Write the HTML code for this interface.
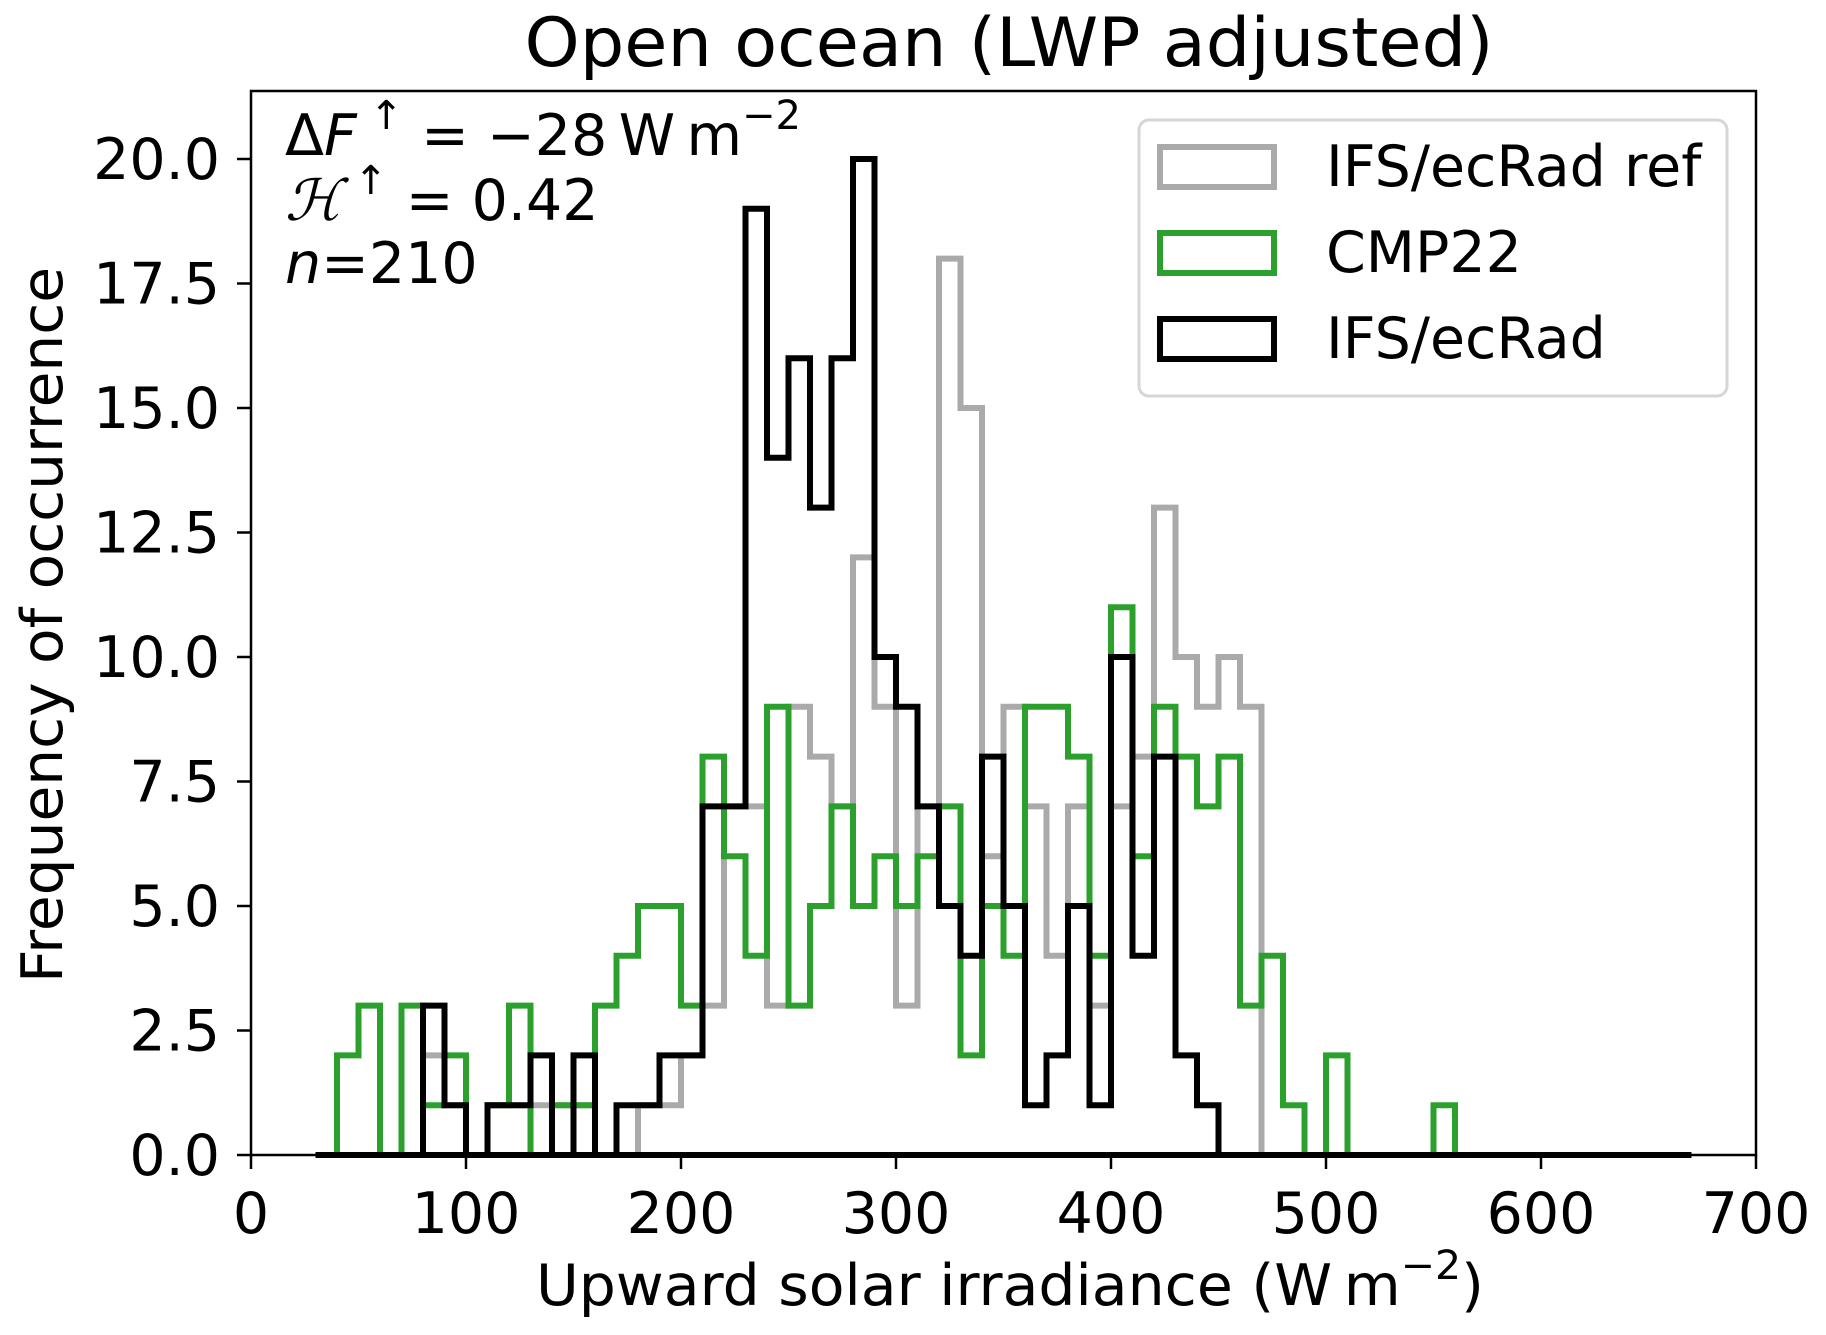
<!DOCTYPE html>
<html><head><meta charset="utf-8"><style>
html,body{margin:0;padding:0;background:#fff;}
svg{display:block;font-family:"DejaVu Sans","Liberation Sans",sans-serif;}
</style></head><body>
<svg id="chart" width="1826" height="1335" viewBox="0 0 1826 1335" xmlns="http://www.w3.org/2000/svg">
<rect x="0" y="0" width="1826" height="1335" fill="#fff"/>
<text x="1009" y="66" font-size="68" text-anchor="middle" textLength="969" lengthAdjust="spacingAndGlyphs">Open ocean (LWP adjusted)</text>
<g id="marks"></g>
<g id="axes"></g>
<g font-size="57">
<text x="285" y="155">Δ<tspan font-style="italic">F</tspan><tspan dy="-26" font-size="40"> ↑</tspan><tspan dy="26"> = −28&#8201;W&#8201;m</tspan><tspan dy="-26" font-size="40">−2</tspan></text>
<text x="285" y="220"><tspan font-family="DejaVu Serif, serif" font-style="italic">ℋ</tspan><tspan dy="-26" font-size="40"> ↑</tspan><tspan dy="26"> = 0.42</tspan></text>
<text x="285" y="283"><tspan font-style="italic">n</tspan>=210</text>
</g>
<g>
<rect x="1139" y="120" width="588" height="276" rx="10" fill="#fff" fill-opacity="0.8" stroke="#d6d6d6" stroke-width="3"/>
<rect x="1160" y="147" width="114" height="40" fill="none" stroke="#aaaaaa" stroke-width="6"/>
<text x="1326" y="186" font-size="57">IFS/ecRad ref</text>
<rect x="1160" y="233" width="114" height="40" fill="none" stroke="#2ca02c" stroke-width="6"/>
<text x="1326" y="272" font-size="57">CMP22</text>
<rect x="1160" y="319" width="114" height="40" fill="none" stroke="#000" stroke-width="6"/>
<text x="1326" y="358" font-size="57">IFS/ecRad</text>
</g>
<text x="1010" y="1305" font-size="57" text-anchor="middle" textLength="948" lengthAdjust="spacingAndGlyphs">Upward solar irradiance (W&#8201;m<tspan dy="-26" font-size="40">−2</tspan><tspan dy="26">)</tspan></text>
<text transform="translate(62,625) rotate(-90)" font-size="57" text-anchor="middle" textLength="716" lengthAdjust="spacingAndGlyphs">Frequency of occurrence</text>
</svg>
<script>
const binStart = 30;
const binWidth = 10;
const refCounts = [0,0,0,0,0, 2,1,0,1,1,1,1,1,0,0,1,1,2,3,7,7,3,9,8,7,12,9,3,7,18,15,6,9,7,4,7,3,7,8,13,10,9,10,9, 0,0,0,0,0,0,0,0,0,0,0,0,0,0,0,0,0,0,0,0];
const cmpCounts = [0,2,3,0,3,1,2,0,1,3,0,1,1,3,4,5,5,3,8,6,4,9,3,5,7,5,6,5,6,7,2,5,4,9,9,8,4,11,6,9,8,7,8,3,4,1,0,2,0,0,0,0,1, 0,0,0,0,0,0,0,0,0,0,0];
const ifsCounts = [0,0,0,0,0, 3,1,0,1,1,2,0,2,0,1,1,2,2,7,7,19,14,16,13,16,20,10,9,7,5,4,8,5,1,2,5,1,10,4,8,2,1, 0,0,0,0,0,0,0,0,0,0,0,0,0,0,0,0,0,0,0,0,0,0];
const xTicks = [0,100,200,300,400,500,600,700];
const yTicks = [0,2.5,5,7.5,10,12.5,15,17.5,20];
const yTickLabels = ["0.0","2.5","5.0","7.5","10.0","12.5","15.0","17.5","20.0"];

const NS = "http://www.w3.org/2000/svg";
const X0 = 251, X1 = 1756, XMAX = 700;
const Y0 = 1155, UNIT = 49.8, YTOP = 91;
function xs(v){ return X0 + (X1 - X0) * v / XMAX; }
function ys(v){ return Y0 - UNIT * v; }

const marks = document.getElementById('marks');
function stepPath(counts, color, name){
  let d = 'M' + xs(binStart) + ' ' + ys(0);
  for (let i = 0; i < counts.length; i++){
    const a = binStart + i * binWidth, b = a + binWidth;
    d += ' L' + xs(a) + ' ' + ys(counts[i]) + ' L' + xs(b) + ' ' + ys(counts[i]);
  }
  d += ' L' + xs(binStart + counts.length * binWidth) + ' ' + ys(0) + ' Z';
  const p = document.createElementNS(NS, 'path');
  p.setAttribute('d', d);
  p.setAttribute('fill', 'none');
  p.setAttribute('stroke', color);
  p.setAttribute('stroke-width', '6');
  p.setAttribute('stroke-linejoin', 'miter');
  
  
  marks.appendChild(p);
}
stepPath(refCounts, '#aaaaaa', 'series-ifs-ecrad-ref');
stepPath(cmpCounts, '#2ca02c', 'series-cmp22');
stepPath(ifsCounts, '#000000', 'series-ifs-ecrad');

const axes = document.getElementById('axes');
const frame = document.createElementNS(NS, 'rect');
frame.setAttribute('x', X0); frame.setAttribute('y', YTOP);
frame.setAttribute('width', X1 - X0); frame.setAttribute('height', Y0 - YTOP);
frame.setAttribute('fill', 'none'); frame.setAttribute('stroke', '#000'); frame.setAttribute('stroke-width', '2.5');


axes.appendChild(frame);

xTicks.forEach(function(v){
  const t = document.createElementNS(NS, 'line');
  t.setAttribute('x1', xs(v)); t.setAttribute('x2', xs(v));
  t.setAttribute('y1', Y0); t.setAttribute('y2', Y0 + 14);
  t.setAttribute('stroke', '#000'); t.setAttribute('stroke-width', '2.5');
  
  
  axes.appendChild(t);
  const l = document.createElementNS(NS, 'text');
  l.setAttribute('x', xs(v)); l.setAttribute('y', 1233);
  l.setAttribute('text-anchor', 'middle'); l.setAttribute('font-size', '57');
  l.textContent = String(v);
  
  
  axes.appendChild(l);
});
yTicks.forEach(function(v, i){
  const t = document.createElementNS(NS, 'line');
  t.setAttribute('x1', X0 - 14); t.setAttribute('x2', X0);
  t.setAttribute('y1', ys(v)); t.setAttribute('y2', ys(v));
  t.setAttribute('stroke', '#000'); t.setAttribute('stroke-width', '2.5');
  
  
  axes.appendChild(t);
  const l = document.createElementNS(NS, 'text');
  l.setAttribute('x', 220); l.setAttribute('y', ys(v) + 20);
  l.setAttribute('text-anchor', 'end'); l.setAttribute('font-size', '57');
  l.textContent = yTickLabels[i];
  
  
  axes.appendChild(l);
});
</script>
</body></html>
